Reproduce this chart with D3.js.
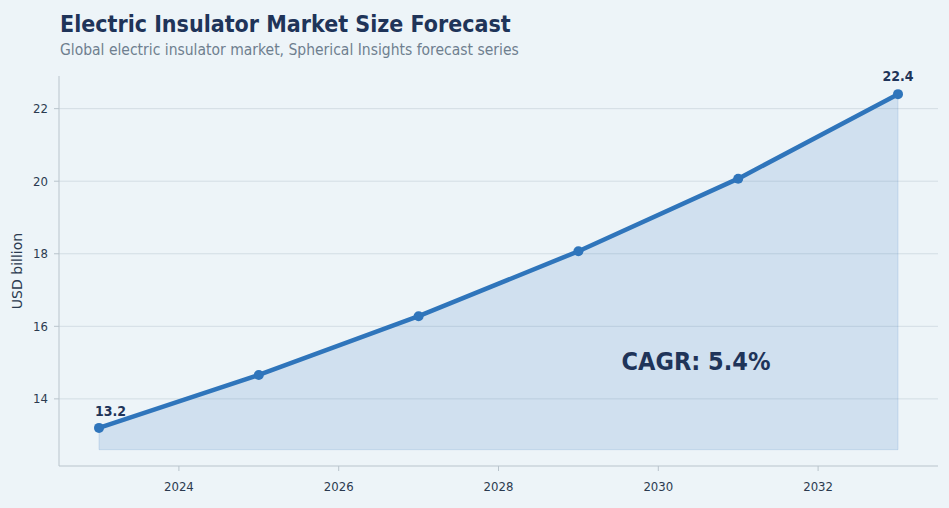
<!DOCTYPE html>
<html><head><meta charset="utf-8">
<script src="https://cdn.jsdelivr.net/npm/d3@7"></script>
<style>
body{margin:0;background:#edf4f8;font-family:"DejaVu Sans",sans-serif;}
</style></head><body>
<svg id="chart" width="949" height="508"></svg>
<script>
const years = [2023, 2025, 2027, 2029, 2031, 2033]
const values = [13.2, 14.66, 16.28, 18.07, 20.07, 22.4]
const yTicks = [14, 16, 18, 20, 22]
const xTicks = [2024, 2026, 2028, 2030, 2032]

const cond = "DejaVu Sans Condensed, DejaVu Sans"
const svg = d3.select("#chart")
svg.append("rect").attr("width", 949).attr("height", 508).attr("fill", "#edf4f8")

const x = d3.scaleLinear().domain([2023, 2033]).range([99, 898])
const y = d3.scaleLinear().domain([12.15, 22.9]).range([466, 76])

// grid
svg.selectAll(".grid").data(yTicks).enter().append("line")
    .attr("x1", 59).attr("x2", 938)
    .attr("y1", d => y(d)).attr("y2", d => y(d))
    .attr("stroke", "#d3dde4").attr("stroke-width", 1)

// axes
svg.append("line").attr("x1", 59).attr("x2", 59).attr("y1", 76).attr("y2", 466).attr("stroke", "#b9c4cc")
svg.append("line").attr("x1", 59).attr("x2", 938).attr("y1", 466).attr("y2", 466).attr("stroke", "#b9c4cc")

svg.selectAll(".yt").data(yTicks).enter().append("text")
    .attr("x", 48).attr("y", d => y(d) + 4.5).attr("text-anchor", "end")
    .attr("font-size", 13).attr("fill", "#2b3a4f").attr("font-family", cond)
    .text(d => d)
svg.selectAll(".ytk").data(yTicks).enter().append("line")
    .attr("x1", 54).attr("x2", 59).attr("y1", d => y(d)).attr("y2", d => y(d)).attr("stroke", "#b9c4cc")
svg.selectAll(".xt").data(xTicks).enter().append("text")
    .attr("x", d => x(d)).attr("y", 491).attr("text-anchor", "middle")
    .attr("font-size", 13).attr("fill", "#2b3a4f").attr("font-family", cond)
    .text(d => d)
svg.selectAll(".xtk").data(xTicks).enter().append("line")
    .attr("x1", d => x(d)).attr("x2", d => x(d)).attr("y1", 466).attr("y2", 471).attr("stroke", "#b9c4cc")

svg.append("text").attr("transform", "translate(22,271) rotate(-90)")
    .attr("text-anchor", "middle").attr("font-size", 14).attr("fill", "#2b3a4f")
    .text("USD billion")

const pts = years.map((yr, i) => [yr, values[i]])

const area = d3.area().x(d => x(d[0])).y0(y(12.6)).y1(d => y(d[1]))
svg.append("path").datum(pts).attr("d", area)
    .attr("fill", "#2f75bb").attr("fill-opacity", 0.15)
    .attr("stroke", "#2f75bb").attr("stroke-opacity", 0.15)

const line = d3.line().x(d => x(d[0])).y(d => y(d[1]))
svg.append("path").datum(pts).attr("d", line)
    .attr("fill", "none").attr("stroke", "#2f75bb").attr("stroke-width", 4.5)
    .attr("stroke-linejoin", "round").attr("stroke-linecap", "round")

svg.selectAll(".pt").data(pts).enter().append("circle")
    .attr("cx", d => x(d[0])).attr("cy", d => y(d[1])).attr("r", 5)
    .attr("fill", "#2f75bb")

const first = pts[0], last = pts[pts.length - 1]
svg.append("text").attr("x", x(first[0]) - 4).attr("y", y(first[1]) - 12)
    .attr("font-size", 14).attr("font-weight", "bold").attr("fill", "#1f3459")
    .attr("font-family", cond).text(first[1])
svg.append("text").attr("x", x(last[0])).attr("y", y(last[1]) - 13).attr("text-anchor", "middle")
    .attr("font-size", 14).attr("font-weight", "bold").attr("fill", "#1f3459")
    .attr("font-family", cond).text(last[1])

svg.append("text").attr("x", 696).attr("y", 370).attr("text-anchor", "middle")
    .attr("font-size", 25).attr("font-weight", "bold").attr("fill", "#1f3459")
    .attr("font-family", cond).text("CAGR: 5.4%")

svg.append("text").attr("x", 60).attr("y", 32)
    .attr("font-size", 23).attr("font-weight", "bold").attr("fill", "#1f3459")
    .attr("font-family", cond).text("Electric Insulator Market Size Forecast")
svg.append("text").attr("x", 60).attr("y", 55)
    .attr("font-size", 15.5).attr("fill", "#6f7f8f")
    .attr("font-family", cond).text("Global electric insulator market, Spherical Insights forecast series")
</script>
</body></html>
